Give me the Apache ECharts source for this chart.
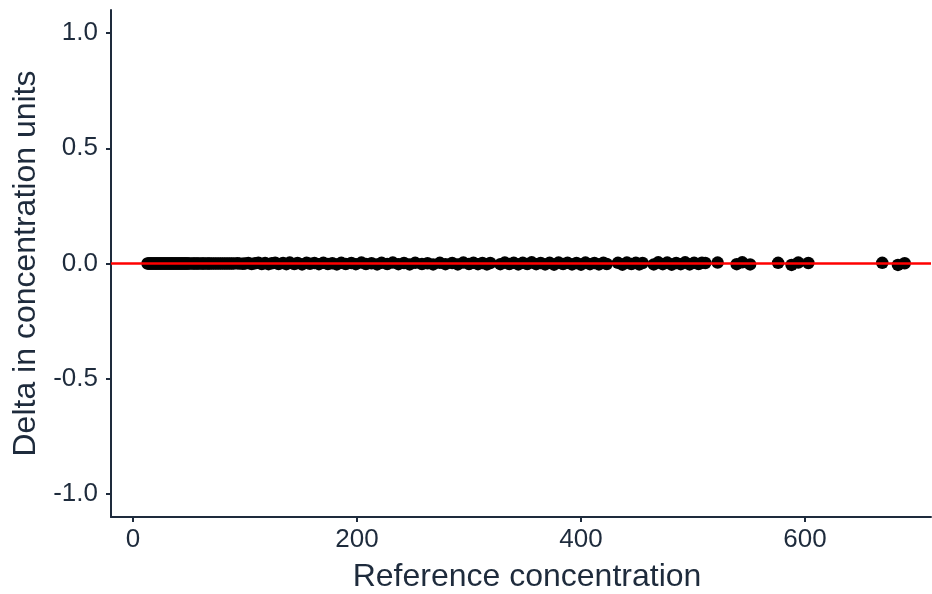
<!DOCTYPE html>
<html>
<head>
<meta charset="utf-8">
<script src="https://cdn.jsdelivr.net/npm/echarts@6/dist/echarts.min.js"></script>
<style>
html,body{margin:0;padding:0;background:#fff;}
#chart{width:932px;height:594px;}
</style>
</head>
<body>
<div id="chart"></div>
<script>
// [reference concentration, delta]
var pointsLow = [
[13,0],[14,0],[15,0],[16,0],[17,0],[18,0],[19,0],[20,0],[21,0],[22,0],[23,0],[24,0],[25,0],[26,0],[27,0],[28,0],[29,0],[30,0],[31,0],[32,0],[33,0],[34,0],[35,0],[36,0],[37,0],[38,0],[39,0],[40,0],[41,0],[42,0],[43,0],[44,0],[45,0],[46,0],[47,0],[48,0],[49,0],[50,0],[52,0],[54,0],[55,0],[57,0],[58,0],[60,0],[62,0],[63,0],[65,0],[67,0],[68,0],[70,0],[72,0],[74,0],[76,0],[78,0],[80,0],[82,0],[84,0],[86,0],[88,0],[90,0],[93,0.001],[95,0],[98,-0.001],[100,0]
];
var pointsMid = [
[103,0.002],[106,-0.002],[109,0.001],[112,0.003],[115,-0.002],[118,0.002],[121,-0.003],[124,0.001],[127,0.003],[130,-0.002],[134,0.002],[137,-0.003],[140,0.004],[144,-0.002],[147,0.002],[151,-0.004],[155,0.003],[158,-0.001],[162,0.002],[166,-0.003],[170,0.003],[174,-0.002],[178,0.001],[182,-0.004],[186,0.003],[190,-0.002],[195,0.002],[199,-0.003],[204,0.004],[208,-0.002],[213,0.001],[218,-0.004],[222,0.003],[227,-0.002],[232,0.004],[237,-0.003],[242,0.002],[247,-0.004],[252,0.003],[258,-0.002],[263,0.001],[268,-0.004],[274,0.003],[279,-0.003],[285,0.002],[290,-0.004],[295,0.004],[300,-0.002],[304,0.003],[308,-0.003],[312,0.002],[316,-0.004],[319,0.002]
];
var pointsHigh = [
[328,-0.003],[332,0.004],[336,-0.002],[340,0.003],[344,-0.004],[348,0.003],[352,-0.002],[356,0.005],[360,-0.003],[364,0.002],[368,-0.004],[372,0.003],[376,-0.005],[380,0.004],[384,-0.002],[388,0.003],[392,-0.004],[396,0.002],[400,-0.005],[404,0.004],[408,-0.003],[412,0.002],[416,-0.004],[420,0.003],[423,-0.002],[433,0.003],[437,-0.005],[441,0.004],[445,-0.002],[449,0.003],[452,-0.004],[455,0.002],[465,-0.004],[469,0.005],[473,-0.003],[477,0.004],[481,-0.005],[485,0.002],[489,-0.003],[493,0.005],[497,-0.004],[501,0.003],[505,-0.002],[508,0.003]
];
var pointsTail = [
[511,0.002],[522,0.004],[539,-0.003],[544,0.005],[551,-0.004],[576,0.003],[588,-0.006],[594,0.004],[603,0.002],[669,0.003],[683,-0.006],[689,0.001]
];
var xTicks = [0, 200, 400, 600];
var yTicks = [-1.0, -0.5, 0.0, 0.5, 1.0];
var refLine = 0;

var allPoints = pointsLow.concat(pointsMid, pointsHigh, pointsTail);
var ink = '#1e2b3c';
var chart = echarts.init(document.getElementById('chart'), null, {renderer: 'canvas'});
chart.setOption({
  animation: false,
  backgroundColor: '#ffffff',
  grid: {left: 111, right: 1, top: 10, bottom: 77, containLabel: false, outerBoundsMode: 'none'},
  xAxis: {
    type: 'value', min: -19.6, max: 712.5,
    name: 'Reference concentration', nameLocation: 'middle', nameGap: 44,
    nameTextStyle: {fontFamily: 'Liberation Sans', fontSize: 32, color: ink, padding: [0, 0, 0, 12]},
    axisLine: {show: true, onZero: false, lineStyle: {color: ink, width: 2}},
    axisTick: {show: true, length: 5, customValues: xTicks, lineStyle: {color: ink, width: 2}},
    axisLabel: {customValues: xTicks, margin: 10, fontFamily: 'Liberation Sans', fontSize: 26, color: ink},
    splitLine: {show: false}
  },
  yAxis: {
    type: 'value', min: -1.1, max: 1.1,
    name: 'Delta in concentration units', nameLocation: 'middle', nameGap: 67,
    nameTextStyle: {fontFamily: 'Liberation Sans', fontSize: 32, color: ink},
    axisLine: {show: true, onZero: false, lineStyle: {color: ink, width: 2}},
    axisTick: {show: true, length: 5, customValues: yTicks, lineStyle: {color: ink, width: 2}},
    axisLabel: {customValues: yTicks, margin: 13, fontFamily: 'Liberation Sans', fontSize: 26, color: ink,
      formatter: function (v) { return v.toFixed(1); }},
    splitLine: {show: false}
  },
  series: [{
    type: 'scatter',
    data: allPoints,
    symbol: 'circle',
    symbolSize: 12.5,
    itemStyle: {color: '#000000', opacity: 1},
    silent: true,
    markLine: {
      silent: true, symbol: 'none', label: {show: false},
      lineStyle: {color: '#ff0000', width: 2.5, type: 'solid'},
      data: [{yAxis: refLine}],
      animation: false
    }
  }]
});
</script>
</body>
</html>
